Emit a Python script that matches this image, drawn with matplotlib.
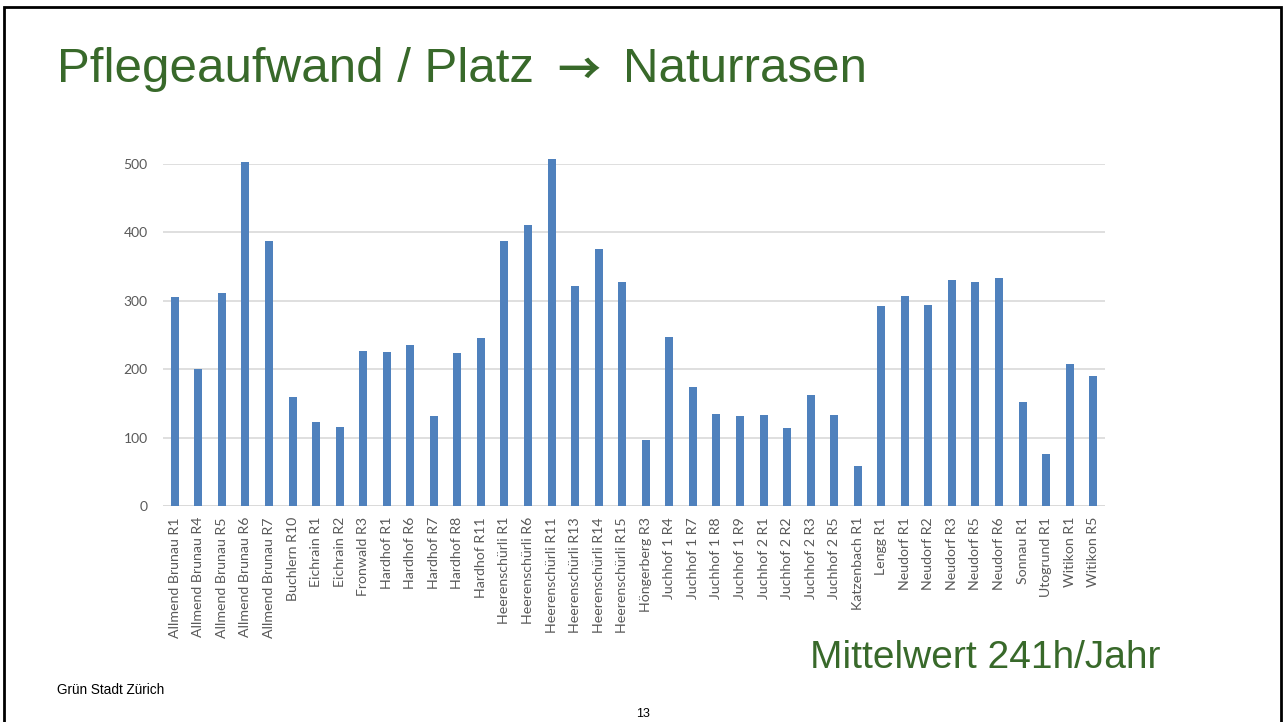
import matplotlib
matplotlib.use("Agg")
import matplotlib.pyplot as plt
from matplotlib.patches import Rectangle
import numpy as np

# Pflegeaufwand pro Platz (h/Jahr), Naturrasen
plaetze = [
	"Allmend Brunau R1", "Allmend Brunau R4", "Allmend Brunau R5", "Allmend Brunau R6",
	"Allmend Brunau R7", "Buchlern R10", "Eichrain R1", "Eichrain R2", "Fronwald R3",
	"Hardhof R1", "Hardhof R6", "Hardhof R7", "Hardhof R8", "Hardhof R11",
	"Heerenschürli R1", "Heerenschürli R6", "Heerenschürli R11", "Heerenschürli R13",
	"Heerenschürli R14", "Heerenschürli R15", "Höngerberg R3", "Juchhof 1 R4",
	"Juchhof 1 R7", "Juchhof 1 R8", "Juchhof 1 R9", "Juchhof 2 R1", "Juchhof 2 R2",
	"Juchhof 2 R3", "Juchhof 2 R5", "Katzenbach R1", "Lengg R1", "Neudorf R1",
	"Neudorf R2", "Neudorf R3", "Neudorf R5", "Neudorf R6", "Sonnau R1", "Utogrund R1",
	"Witikon R1", "Witikon R5",
]
aufwand = [
	305, 200, 311, 503, 387, 159, 123, 115, 227,
	225, 235, 131, 223, 245,
	387, 411, 507, 321,
	376, 327, 96, 247,
	174, 135, 131, 133, 114,
	163, 133, 59, 292, 307,
	294, 331, 327, 333, 152, 76,
	207, 190,
]
yticks = [0, 100, 200, 300, 400, 500]

green = "#38692A"
grey = "#595959"
plt.rcParams['font.family'] = ['Liberation Sans', 'DejaVu Sans']

fig = plt.figure(figsize=(12.85, 7.22), dpi=100)
ax = fig.add_axes([163/1285, 1-506/722, (1105-163)/1285, (506-164)/722])

x = np.arange(len(plaetze))
ax.bar(x, aufwand, width=0.34, color="#4F81BD", zorder=3, clip_on=False)
ax.set_xlim(-0.5, len(plaetze)-0.5)
ax.set_ylim(0, 500)
ax.set_yticks(yticks)
ax.yaxis.grid(True, color="#D9D9D9", linewidth=1.2, zorder=0)
for s in ax.spines.values():
	s.set_visible(False)
ax.axhline(0, color="#D9D9D9", linewidth=1.2, zorder=1)
ax.tick_params(length=0)
ax.set_xticks(x)
ax.set_xticklabels(plaetze, rotation=90, family=['Lato', 'DejaVu Sans'], fontsize=10.2, color=grey)
ax.tick_params(axis='x', pad=8)
ax.tick_params(axis='y', pad=11)
for t in ax.get_yticklabels():
	t.set_family(['Lato', 'DejaVu Sans'])
	t.set_fontsize(10)
	t.set_color(grey)

# title in three pieces so the arrow can use a chevron-headed glyph
ty = 1-70/722
fig.text(57/1285, ty, "Pflegeaufwand / Platz", fontsize=35.5, color=green, va='center', ha='left')
fig.text(579/1285, 1-71/722, "\u2192", fontsize=31, color=green, va='center', ha='center',
	family=['Noto Sans CJK JP', 'DejaVu Sans'], fontweight='bold')
fig.text(623/1285, ty, "Naturrasen", fontsize=35.5, color=green, va='center', ha='left')

fig.text(810/1285, 1-658/722, "Mittelwert 241h/Jahr", fontsize=28, color=green, va='center', ha='left')
fig.text(57/1285, 1-690/722, "Grün Stadt Zürich", fontsize=9.8, color="black", va='center', ha='left')
fig.text(643/1285, 1-714/722, "13", fontsize=9, color="black", va='center', ha='center')

fig.patches.append(Rectangle((0.003, -0.01), 0.994, 1.0, transform=fig.transFigure,
	fill=False, edgecolor="black", linewidth=2))

fig.savefig("out.png", dpi=100)
